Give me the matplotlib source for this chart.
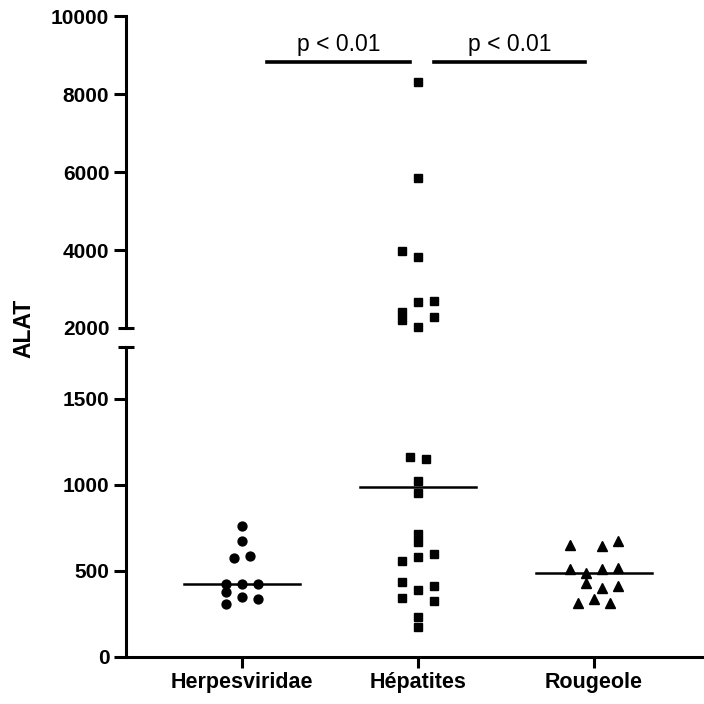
import numpy as np
import matplotlib
matplotlib.use("Agg")
import matplotlib.pyplot as plt

plt.rcParams['font.family'] = ['Liberation Sans', 'DejaVu Sans']

categories = ['Herpesviridae', 'Hépatites', 'Rougeole']
markers = ['o', 's', '^']

# ALAT values
herpes = [763, 674, 577, 589, 426, 426, 426, 378, 351, 339, 310]
hepatites = [8315, 5846, 3974, 3820, 2659, 2700, 2418, 2205, 2274, 2034,
             1164, 1151, 1023, 955, 715, 669, 597, 580, 558, 438, 413,
             388, 345, 327, 234, 176]
rougeole = [651, 645, 676, 510, 486, 513, 519, 428, 403, 411, 312, 339, 316]

# horizontal slot of each point (scatter layout)
herpes_slot = [0, 0, -1, 1, -2, 0, 2, -2, 0, 2, -2]
hepatites_slot = [0, 0, -2, 0, 0, 2, -2, -2, 2, 0,
                  -1, 1, 0, 0, 0, 0, 2, 0, -2, -2, 2, 0, -2, 2, 0, 0]
rougeole_slot = [-3, 1, 3, -3, -1, 1, 3, -1, 1, 3, -2, 0, 2]

groups = [herpes, hepatites, rougeole]
slots = [herpes_slot, hepatites_slot, rougeole_slot]

upper_ticks = [2000, 4000, 6000, 8000, 10000]
lower_ticks = [0, 500, 1000, 1500]
comparisons = [(0, 1, 'p < 0.01'), (1, 2, 'p < 0.01')]

fig = plt.figure(figsize=(7.04, 7.04), dpi=100)
left, width = 126 / 704, 578 / 704
ax_up = fig.add_axes([left, 1 - 328 / 704, width, 312 / 704])
ax_lo = fig.add_axes([left, 1 - 657 / 704, width, 310 / 704])

xlim = (-0.66, 2.625)
step = 0.0455
lw = 2.2

for ax, (lo, hi) in [(ax_up, (2000, 10000)), (ax_lo, (0, 1800))]:
    for i, (vals, sl) in enumerate(zip(groups, slots)):
        v = np.array(vals, dtype=float)
        s = np.array(sl)
        m = (v >= lo) & (v <= hi)
        ax.plot(i + s[m] * step, v[m], linestyle='none', marker=markers[i],
                ms=6.4 if i != 2 else 7.2, color='black', clip_on=False, zorder=3)
        med = np.median(vals)
        if lo <= med <= hi:
            ax.plot([i - 0.33, i + 0.33], [med, med], color='black', lw=1.8, zorder=2)
    ax.set_xlim(*xlim)
    ax.set_ylim(lo, hi)
    for side in ['top', 'right']:
        ax.spines[side].set_visible(False)
    ax.spines['left'].set_linewidth(lw)
    ax.tick_params(axis='y', direction='out', length=8.5, width=lw, pad=3.5,
                   labelsize=15)

ax_up.set_yticks(upper_ticks)
ax_up.set_yticklabels([str(t) for t in upper_ticks], fontweight='bold')
ax_up.yaxis.get_major_ticks()[0].tick1line.set_visible(False)
ax_up.spines['bottom'].set_visible(False)
ax_up.set_xticks([])
ax_up.plot(xlim[0], 2000, marker='_', ms=11, mew=lw, color='black', clip_on=False)

ax_lo.set_yticks(lower_ticks)
ax_lo.set_yticklabels([str(t) for t in lower_ticks], fontweight='bold')
ax_lo.spines['bottom'].set_linewidth(lw)
ax_lo.plot(xlim[0], 1800, marker='_', ms=11, mew=lw, color='black', clip_on=False)
ax_lo.set_xticks(range(len(categories)))
ax_lo.set_xticklabels(categories, fontweight='bold', fontsize=15.5)
ax_lo.tick_params(axis='x', direction='out', length=8, width=lw, pad=3)

# significance bars
bar_y = 8830
for a, b, txt in comparisons:
    if a == 0:
        x0, x1 = a + 0.14, b - 0.045
    else:
        x0, x1 = a + 0.09, b - 0.05
    ax_up.plot([x0, x1], [bar_y, bar_y], color='black', lw=2.6, clip_on=False)
    ax_up.annotate(txt, xy=((x0 + x1) / 2, bar_y), xytext=(0, 4),
                   textcoords='offset points', ha='center', va='bottom',
                   fontsize=16.5, annotation_clip=False)

fig.text(24 / 704, 1 - 328 / 704, 'ALAT', rotation=90, ha='center', va='center',
         fontsize=16.5, fontweight='bold')

fig.savefig('out.png', dpi=100)
